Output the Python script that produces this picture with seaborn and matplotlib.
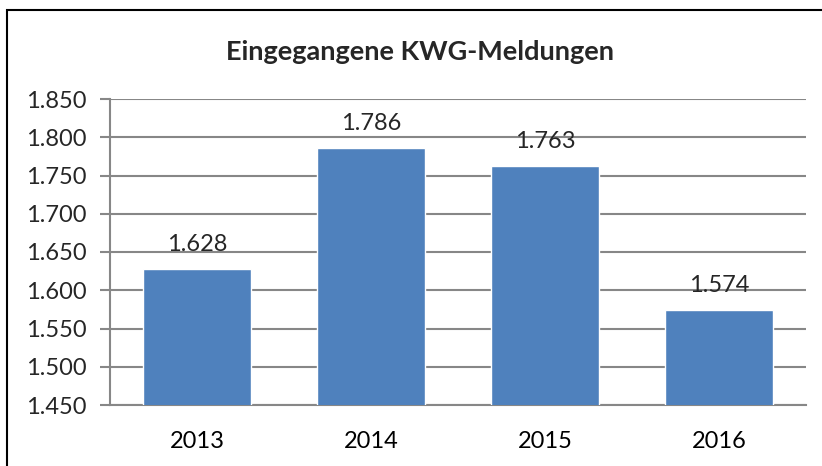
import matplotlib
matplotlib.use("Agg")
import matplotlib.pyplot as plt
import seaborn as sns
import pandas as pd
from matplotlib.ticker import FuncFormatter, FixedLocator
from matplotlib.patches import Rectangle

years = ["2013", "2014", "2015", "2016"]
counts = [1628, 1786, 1763, 1574]
title = "Eingegangene KWG-Meldungen"

sns.set_style("white")
plt.rcParams['font.family'] = ['Lato', 'DejaVu Sans']

df = pd.DataFrame({"Jahr": years, "Meldungen": counts})

fig = plt.figure(figsize=(8.22, 4.66), dpi=100)
ax = fig.add_axes([110/822, 1-405/466, 696/822, 306/466])

grid_c = "#878787"
sns.barplot(data=df, x="Jahr", y="Meldungen", color="#4F81BD", saturation=1,
            width=0.62, ax=ax, zorder=3)

ax.set_ylim(1450, 1850)
ax.set_xlim(-0.5, 3.5)
ax.set_yticks(range(1450, 1851, 50))
fmt = lambda v, p: f"{int(v):,}".replace(",", ".")
ax.yaxis.set_major_formatter(FuncFormatter(fmt))
ax.yaxis.grid(True, color=grid_c, linewidth=1.5, zorder=0)
ax.set_axisbelow(True)

ax.xaxis.set_minor_locator(FixedLocator([-0.5, 0.5, 1.5, 2.5, 3.5]))
ax.tick_params(axis="x", which="major", length=0, labelsize=17, pad=19, colors="black")
ax.tick_params(axis="x", which="minor", length=7, width=1.5, color=grid_c, direction="out")
ax.tick_params(axis="y", length=7, width=1.5, color=grid_c, labelsize=17, pad=10, direction="out", left=True)

for s in ["top", "right"]:
    ax.spines[s].set_visible(False)
for s in ["left", "bottom"]:
    ax.spines[s].set_color(grid_c)
    ax.spines[s].set_linewidth(1.5)

ax.set_xlabel("")
ax.set_ylabel("")

for i, v in enumerate(counts):
    ax.annotate(fmt(v, None), (i, v), xytext=(0, 10), textcoords="offset points",
                ha="center", va="bottom", fontsize=17)

fig.text(420/822, 1-52/466, title, ha="center", va="center", fontsize=19.5, fontweight="bold")

fig.patches.append(Rectangle((7/822, -0.1), 1.2, 1-10/466+0.1, transform=fig.transFigure,
                             fill=False, edgecolor="black", linewidth=1.5))

fig.savefig("out.png", dpi=100)
